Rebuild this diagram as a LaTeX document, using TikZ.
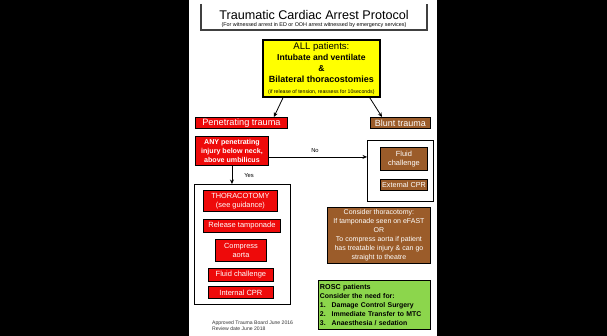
\documentclass[tikz,border=0pt]{standalone}
\usepackage{fontspec}
\setmainfont{Liberation Sans}
\usetikzlibrary{arrows.meta,calc}
\definecolor{tcred}{RGB}{238,10,10}
\definecolor{tcbrown}{RGB}{155,92,42}
\definecolor{tcgreen}{RGB}{140,214,76}
\definecolor{tcyellow}{RGB}{255,255,0}
\newcommand{\fs}[2]{\fontsize{#1}{#2}\selectfont}
\begin{document}
\begin{tikzpicture}[x=1pt,y=-1pt,
  pbox/.style={draw=black, line width=0.9pt, inner sep=0pt, align=center,
    anchor=north west, text=white},
  redbox/.style={pbox, fill=tcred},
  brownbox/.style={pbox, fill=tcbrown},
  frame/.style={draw=black, line width=1.3pt, fill=white, anchor=north west, inner sep=0pt},
  arr/.style={draw=black, line width=0.8pt, -{Stealth[length=4.5pt,width=4pt]}},
  lbl/.style={font=\fs{5.8}{6}, text=black, inner sep=0pt}]
% page and margins
\fill[black] (0,0) rectangle (607,336);
\fill[white] (189,0) rectangle (437,336);
\useasboundingbox (0,0) rectangle (607,336);

% title bracket
\draw[line width=1.2pt, draw=black!75] (201,4) -- (201,30) -- (427,30) -- (427,4);
\node[inner sep=0pt, font=\fs{12.6}{13}] (title) at (314,15) {Traumatic Cardiac Arrest Protocol};
\node[inner sep=0pt, font=\fs{5.4}{6}] (subtitle) at (314,25.5) {(For witnessed arrest in ED or OOH arrest witnessed by emergency services)};

% first step for all patients
\node[pbox, fill=tcyellow, text=black, line width=1.8pt, minimum width=117, minimum height=57]
  (all) at (262,39) {\fs{9.6}{11}ALL patients:\\[-1pt]
  \fs{8.6}{10}\bfseries Intubate and ventilate\\[-1pt]
  \fs{8.6}{9.5}\bfseries \&\\[-1pt]
  \fs{9}{10}\bfseries Bilateral thoracostomies\\[-1.5pt]
  \fs{5.2}{6}(if release of tension, reassess for 10seconds)};

% trauma type
\node[redbox, minimum width=92, minimum height=11, font=\fs{9.2}{10}] (pen) at (195,117) {Penetrating trauma};
\node[brownbox, minimum width=60, minimum height=11, font=\fs{9}{10}] (blunt) at (370,117) {Blunt trauma};

\node[redbox, minimum width=73, minimum height=29, font=\fs{7.1}{8.8}\bfseries] (any) at (195,136)
  {ANY penetrating\\injury below neck,\\above umbilicus};

% blunt trauma actions
\node[frame, minimum width=66, minimum height=61] (bluntset) at (367,140) {};
\node[brownbox, minimum width=47, minimum height=23, font=\fs{7.4}{9}] (fluidR) at (380,147) {Fluid\\challenge};
\node[brownbox, minimum width=47, minimum height=11, font=\fs{7.2}{8}] (extcpr) at (380,179) {External CPR};

% penetrating trauma actions
\node[frame, minimum width=96, minimum height=120] (penset) at (194,184) {};
\node[redbox, minimum width=74, minimum height=21, font=\fs{7.4}{9}] (thor) at (203,190) {THORACOTOMY\\(see guidance)};
\node[redbox, minimum width=77, minimum height=13, font=\fs{7.5}{8}] (release) at (203,219) {Release tamponade};
\node[redbox, minimum width=51, minimum height=22, font=\fs{7.4}{9.5}] (compress) at (215,239) {Compress\\aorta};
\node[redbox, minimum width=65, minimum height=13, font=\fs{7.5}{8}] (fluidL) at (208,268) {Fluid challenge};
\node[redbox, minimum width=65, minimum height=12, font=\fs{7.5}{8}] (intcpr) at (208,286) {Internal CPR};

% further considerations
\node[brownbox, minimum width=103, minimum height=56, font=\fs{7}{9}] (consider) at (327,207)
  {Consider thoracotomy:\\If tamponade seen on eFAST\\OR\\To compress aorta if patient\\has treatable injury \& can go\\straight to theatre};

\node[pbox, fill=tcgreen, text=black, minimum width=112, minimum height=49, align=left,
  text width=109, inner xsep=1.5pt, font=\fs{6.9}{9}\bfseries] (rosc) at (318,280)
  {{\fs{7.2}{9}ROSC patients}\\
   Consider the need for:\\
   1.\hspace{6pt}Damage Control Surgery\\
   2.\hspace{6pt}Immediate Transfer to MTC\\
   3.\hspace{6pt}Anaesthesia / sedation};

% approval footer
\node[anchor=north west, inner sep=0pt, align=left, text=black!80, font=\fs{5.1}{6}] (footer) at (212,321)
  {Approved Trauma Board June 2016\\Review date June 2018};

% connectors
\draw[arr] ([xshift=21]all.south west) -- ([xshift=-14]pen.north east);
\draw[arr] ([xshift=-11]all.south east) -- ([xshift=12]blunt.north west);
\draw[arr] ([yshift=-6]any.east) -- node[lbl, above=4pt, pos=0.47] (nolbl) {No} ([yshift=-6]any.east -| bluntset.west);
\draw[arr] (any.south) -- node[lbl, right=12pt, pos=0.55] (yeslbl) {Yes} (any.south |- penset.north);
\end{tikzpicture}
\end{document}
